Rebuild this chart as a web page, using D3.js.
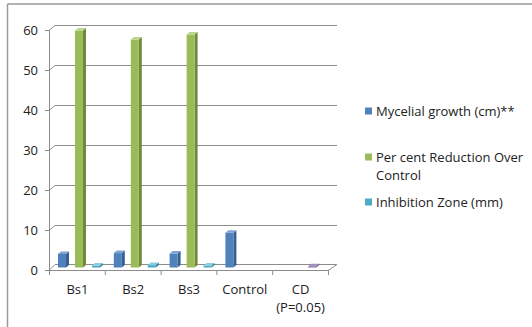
<!DOCTYPE html>
<html>
<head>
<meta charset="utf-8">
<script src="https://cdn.jsdelivr.net/npm/d3@7"></script>
<style>
  html, body { margin: 0; padding: 0; background: #fff; }
  svg { display: block; }
  text { font-family: "Open Sans", "Liberation Sans", Arial, sans-serif; fill: #222; }
</style>
</head>
<body>
<svg id="chart" width="532" height="327"></svg>
<script>
// ---- data ----
const categories = ["Bs1", "Bs2", "Bs3", "Control", "CD\n(P=0.05)"];
const seriesNames = ["Mycelial growth (cm)**", "Per cent Reduction Over Control", "Inhibition Zone (mm)"];
const mycelialGrowth = [3.4, 3.6, 3.5, 8.7, null];
const percentReduction = [59.25, 57.0, 58.25, null, null];
const inhibitionZone = [0.5, 0.6, 0.5, null, 0.3];
const yTicks = [0, 10, 20, 30, 40, 50, 60];

const seriesValues = [mycelialGrowth, percentReduction, inhibitionZone];

// ---- styles ----
const colors = [
  { front: "#4F81BD", side: "#36608F", top: "#7DA3D3" },
  { front: "#9BBB59", side: "#6E8A3A", top: "#BCD489" },
  { front: "#4BACC6", side: "#2F8199", top: "#86CDE0" }
];
const cdColor = { front: "#8064A2", side: "#5C4878", top: "#A58FC2" };

const svg = d3.select("#chart");
const W = 532, H = 327;

// chart border (top & left visible)
svg.append("line").attr("x1", 7.5).attr("x2", W).attr("y1", 4).attr("y2", 4)
  .attr("stroke", "#9a9a9a").attr("stroke-width", 1.5);
svg.append("line").attr("x1", 7.5).attr("x2", 7.5).attr("y1", 4).attr("y2", H)
  .attr("stroke", "#9a9a9a").attr("stroke-width", 1.5);

// scales
const y = d3.scaleLinear().domain([0, 60]).range([270, 30]);
const x = d3.scaleBand().domain(categories).range([49, 328]).padding(0);
const inner = d3.scaleBand().domain(d3.range(3)).range([9, 51]).paddingInner(9 / 17).paddingOuter(0);

const DX = 6, DY = -5; // wall depth

const g = svg.append("g");

// back wall gridlines
yTicks.forEach(t => {
  if (t === 0) return;
  g.append("line")
    .attr("x1", 49 + DX).attr("x2", 337)
    .attr("y1", y(t) + DY + 0.5).attr("y2", y(t) + DY + 0.5)
    .attr("stroke", "#8c8c8c").attr("stroke-width", 1);
  g.append("line")
    .attr("x1", 49).attr("y1", y(t) + 0.5)
    .attr("x2", 49 + DX).attr("y2", y(t) + DY + 0.5)
    .attr("stroke", "#8c8c8c").attr("stroke-width", 1);
});

// floor
const x1 = 328;
g.append("path")
  .attr("d", `M49,${y(0) + 0.5} L${x1},${y(0) + 0.5} L${x1 + 9},${y(0) + DY - 0.5} L${49 + DX},${y(0) + DY - 0.5} Z`)
  .attr("fill", "#fff").attr("stroke", "#8c8c8c").attr("stroke-width", 1);

// y axis
g.append("line").attr("x1", 49.5).attr("x2", 49.5).attr("y1", y(60)).attr("y2", y(0) + 1)
  .attr("stroke", "#8c8c8c");
yTicks.forEach(t => {
  g.append("line").attr("x1", 45).attr("x2", 49).attr("y1", y(t) + 0.5).attr("y2", y(t) + 0.5)
    .attr("stroke", "#8c8c8c");
  g.append("text").attr("x", 38).attr("y", y(t)).attr("dy", "0.35em")
    .attr("text-anchor", "end").attr("font-size", 13).text(t);
});

// x axis ticks
const tickXs = categories.map(c => x(c)).concat([x1]);
tickXs.forEach(tx => {
  g.append("line").attr("x1", tx + 0.5).attr("x2", tx + 0.5).attr("y1", y(0)).attr("y2", y(0) + 5)
    .attr("stroke", "#8c8c8c");
});
categories.forEach(c => {
  const lines = c.split("\n");
  const t = g.append("text").attr("text-anchor", "middle").attr("font-size", 13)
    .attr("x", x(c) + x.bandwidth() / 2 + 0.5).attr("y", 294);
  lines.forEach((ln, i) => {
    t.append("tspan").attr("x", x(c) + x.bandwidth() / 2 + 0.5).attr("dy", i === 0 ? 0 : 18).text(ln);
  });
});

// 3D bars
const bw = inner.bandwidth();
const bdx = 3, bdy = -2.5;
const baseShift = -2.5;
seriesValues.forEach((vals, si) => {
  vals.forEach((v, ci) => {
    if (v === null) return;
    const c = categories[ci];
    const col = (ci === 4) ? cdColor : colors[si];
    const xf = x(c) + inner(si) - (ci === 4 ? 7 : 0);
    const yb = y(0) + baseShift;
    const yt = y(v) + baseShift;
    const bar = g.append("g");
    bar.append("path")
      .attr("d", `M${xf + bw},${yb} L${xf + bw + bdx},${yb + bdy} L${xf + bw + bdx},${yt + bdy} L${xf + bw},${yt} Z`)
      .attr("fill", col.side);
    bar.append("rect").attr("x", xf).attr("y", yt).attr("width", bw).attr("height", Math.max(0, yb - yt))
      .attr("fill", col.front);
    bar.append("path")
      .attr("d", `M${xf},${yt} L${xf + bdx},${yt + bdy} L${xf + bw + bdx},${yt + bdy} L${xf + bw},${yt} Z`)
      .attr("fill", col.top);
  });
});

// legend
const legendItems = [
  { lines: ["Mycelial growth (cm)**"], y: 111 },
  { lines: ["Per cent Reduction Over", "Control"], y: 157 },
  { lines: ["Inhibition Zone (mm)"], y: 202 }
];
legendItems.forEach((it, i) => {
  svg.append("rect").attr("x", 365).attr("y", it.y - 3.5).attr("width", 7).attr("height", 7)
    .attr("fill", colors[i].front);
  const t = svg.append("text").attr("font-size", 13).attr("x", 376).attr("y", it.y);
  it.lines.forEach((ln, k) => {
    t.append("tspan").attr("x", 376).attr("dy", k === 0 ? "0.35em" : 18).text(ln);
  });
});
</script>
</body>
</html>
